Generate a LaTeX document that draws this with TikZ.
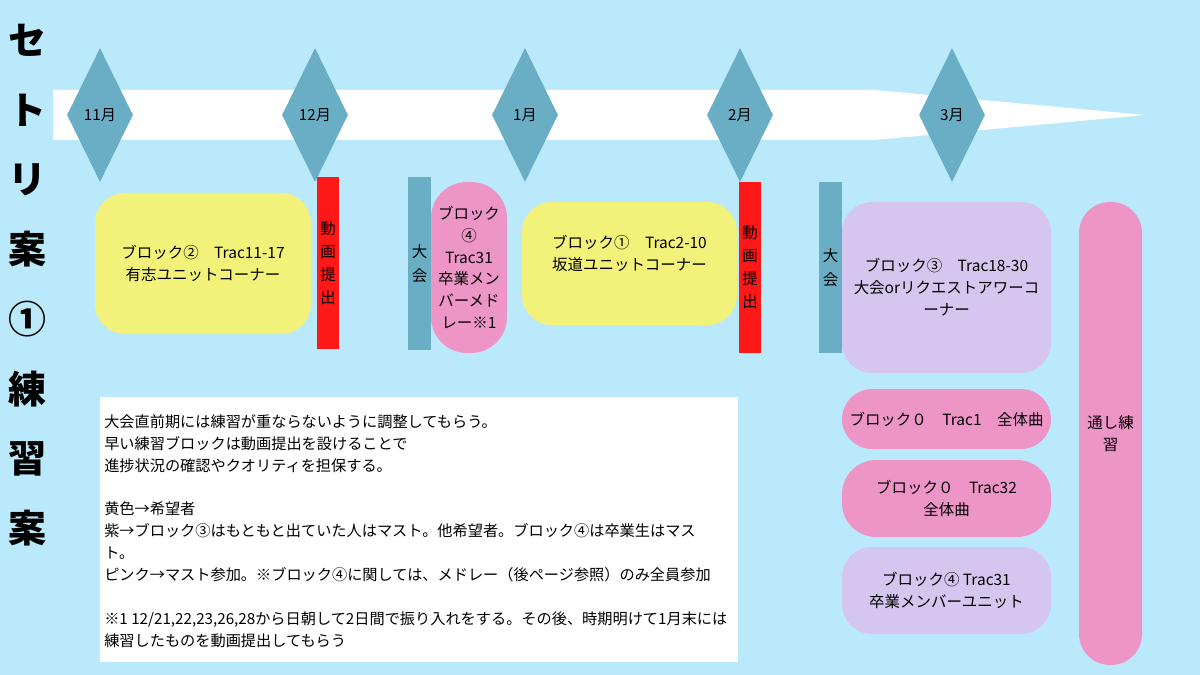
\documentclass[tikz,border=0pt]{standalone}
\usepackage{fontspec}
\setmainfont{Noto Sans CJK JP}
\usetikzlibrary{shapes.geometric}
\definecolor{haikei}{RGB}{187,233,252}
\definecolor{aoiro}{RGB}{106,174,198}
\definecolor{akairo}{RGB}{255,24,24}
\definecolor{kiiro}{RGB}{242,242,122}
\definecolor{momoiro}{RGB}{238,149,200}
\definecolor{murasaki}{RGB}{213,198,239}
\newlength{\px}
\setlength{\px}{0.025cm}

\begin{document}
\begin{tikzpicture}[x=0.025cm, y=-0.025cm,
  tsuki/.style={diamond, fill=aoiro, inner sep=0pt, minimum width=66\px, minimum height=134\px, font=\fontsize{10.8}{12}\selectfont},
  hako/.style 2 args={rectangle, inner sep=0pt, minimum width=#1\px, minimum height=#2\px, align=center, font=\fontsize{11}{15.6}\selectfont},
  teishutsu/.style={fill=akairo, font=\fontsize{11}{16.3}\selectfont},
  taikai/.style={fill=aoiro, font=\fontsize{11}{17}\selectfont},
  kibou/.style={fill=kiiro, rounded corners=30\px},
  must/.style={fill=momoiro, rounded corners=30\px},
  ippan/.style={fill=murasaki, rounded corners=30\px}]

% Haikei
\fill[haikei] (0,0) rectangle (1200,675);

% Taitoru
\node[align=center, inner sep=0pt, font=\fontsize{27}{49.6}\selectfont\bfseries] (title) at (27,285)
  {セ\\ト\\リ\\案\\①\\練\\習\\案};

% Jikan no yajirushi
\fill[white] (53,90) -- (874,90) -- (1145,115) -- (874,140) -- (53,140) -- cycle;

% Tsuki
\node[tsuki] (nov) at (100,115) {11月};
\node[tsuki] (dec) at (315,115) {12月};
\node[tsuki] (jan) at (525,115) {1月};
\node[tsuki] (feb) at (740,115) {2月};
\node[tsuki] (mar) at (952,115) {3月};

% Burokku (ue no dan)
\node[hako={216}{141}, kibou] (blk2) at (203,263.5) {ブロック②　Trac11-17\\有志ユニットコーナー};
\node[hako={22}{172}, teishutsu] (dg1) at (328,263) {動\\画\\提\\出};
\node[hako={23}{173}, taikai] (tk1) at (419.5,263.5) {大\\会};
\node[hako={76}{171}, must, rounded corners=36\px] (blk4m) at (469,267.5)
  {ブロック\\④\\Trac31\\卒業メン\\バーメド\\レー※1};
\node[hako={215}{123}, kibou] (blk1) at (629.5,263.5) {ブロック①　Trac2-10\\坂道ユニットコーナー\\ \mbox{}};
\node[hako={22}{171}, teishutsu] (dg2) at (750,267.5) {動\\画\\提\\出};
\node[hako={23}{171}, taikai] (tk2) at (830.5,267.5) {大\\会};
\node[hako={209}{171}, ippan] (blk3) at (946.5,287.5)
  {ブロック③　Trac18-30\\大会orリクエストアワーコ\\ーナー};

% Burokku (migi no dan)
\node[hako={209}{60}, must] (blk0a) at (946.5,419) {ブロック０　Trac1　全体曲};
\node[hako={209}{77}, must, rounded corners=34\px] (blk0b) at (946.5,498.5) {ブロック０　Trac32\\全体曲};
\node[hako={209}{87}, ippan] (blk4u) at (946.5,590.5) {ブロック④ Trac31\\卒業メンバーユニット};
\node[hako={63}{463}, must, rounded corners=31\px] (toshi) at (1110.5,433.5) {通し練\\習};

% Setsumei
\node[hako={638}{265}, fill=white] (memo) at (419,529.5) {};
\node[anchor=north west, inner sep=0pt, align=left, font=\fontsize{10.8}{15.6}\selectfont] (memotext) at (104,414)
  {大会直前期には練習が重ならないように調整してもらう。\\
   早い練習ブロックは動画提出を設けることで\\
   進捗状況の確認やクオリティを担保する。\\
   \mbox{}\\
   黄色→希望者\\
   紫→ブロック③はもともと出ていた人はマスト。他希望者。ブロック④は卒業生はマス\\
   ト。\\
   ピンク→マスト参加。※ブロック④に関しては、メドレー（後ページ参照）のみ全員参加\\
   \mbox{}\\
   ※1 12/21,22,23,26,28から日朝して2日間で振り入れをする。その後、時期明けて1月末には\\
   練習したものを動画提出してもらう};

\end{tikzpicture}
\end{document}
